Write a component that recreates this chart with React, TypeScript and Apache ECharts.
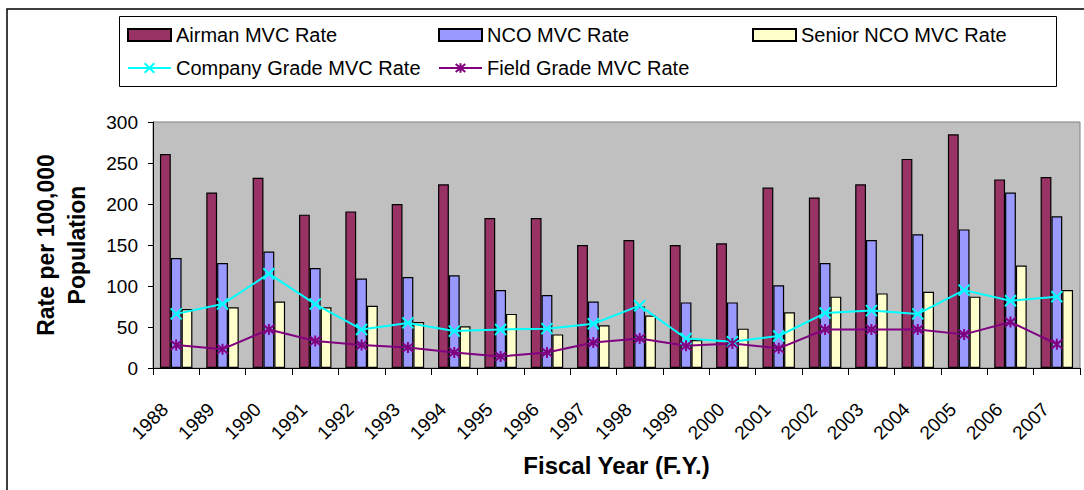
import React, { useEffect, useRef } from "react";
import * as echarts from "echarts";

const years = ["1988","1989","1990","1991","1992","1993","1994","1995","1996","1997","1998","1999","2000","2001","2002","2003","2004","2005","2006","2007"];
const airman = [261,214,232,187,191,200,224,183,183,150,156,150,152,220,208,224,255,285,230,233];
const nco = [134,128,142,122,109,111,113,95,89,81,75,80,80,101,128,156,163,169,214,185];
const seniorNco = [72,74,81,74,76,56,51,66,41,52,64,34,48,68,87,91,93,87,125,95];
const companyGrade = [66,78,115,78,47,55,45,47,48,54,76,36,32,39,67,70,66,95,82,87];
const fieldGrade = [28,23,47,33,28,25,19,14,19,31,36,27,30,24,47,47,47,41,56,29];

const FONT = "'Liberation Sans', Arial, sans-serif";

export default function App() {
  const ref = useRef<HTMLDivElement>(null);
  useEffect(() => {
    if (!ref.current) return;
    const chart = echarts.init(ref.current, null, { renderer: "svg" });
    const legendText = { fontSize: 20, color: "#000", fontFamily: FONT };
    const legendBase = { padding: 0, itemWidth: 43, itemHeight: 12, itemGap: 0, textStyle: legendText, selectedMode: false };
    const barBase = {
      type: "bar",
      barGap: "0%",
      barCategoryGap: "30%",
    };
    chart.setOption({
      animation: false,
      backgroundColor: "#ffffff",
      textStyle: { fontFamily: FONT },
      graphic: [
        { type: "rect", shape: { x: 7, y: 9, width: 1200, height: 600 }, style: { fill: "none", stroke: "#000", lineWidth: 1.5 }, silent: true },
        { type: "rect", shape: { x: 119.5, y: 16.5, width: 937, height: 70 }, style: { fill: "none", stroke: "#000", lineWidth: 1 }, silent: true },
      ],
      legend: [
        { ...legendBase, data: [{ name: "Airman MVC Rate", icon: "rect" }], left: 127, top: 25 },
        { ...legendBase, data: [{ name: "NCO MVC Rate", icon: "rect" }], left: 438, top: 25 },
        { ...legendBase, data: [{ name: "Senior NCO MVC Rate", icon: "rect" }], left: 752, top: 25 },
        { ...legendBase, data: ["Company Grade MVC Rate"], left: 127, top: 58 },
        { ...legendBase, data: ["Field Grade MVC Rate"], left: 438, top: 58 },
      ],
      grid: {
        left: 153,
        top: 122,
        right: 4,
        bottom: 122,
        show: true,
        backgroundColor: "#C0C0C0",
        borderColor: "#808080",
        borderWidth: 1,
      },
      xAxis: {
        type: "category",
        data: years,
        axisLine: { lineStyle: { color: "#000", width: 1 } },
        axisTick: { show: true, length: 7, lineStyle: { color: "#000" } },
        axisLabel: {
          interval: 0,
          rotate: 45,
          fontSize: 19,
          color: "#000",
          fontFamily: FONT,
          margin: 27,
          padding: [0, 16, 0, 0],
        },
        name: "Fiscal Year (F.Y.)",
        nameLocation: "middle",
        nameGap: 85,
        nameTextStyle: { fontSize: 24, fontWeight: "bold", color: "#000", fontFamily: FONT },
      },
      yAxis: {
        type: "value",
        min: 0,
        max: 300,
        interval: 50,
        axisLine: { show: true, lineStyle: { color: "#000", width: 1 } },
        axisTick: { show: true, length: 5, lineStyle: { color: "#000" } },
        splitLine: { show: false },
        axisLabel: { fontSize: 19, color: "#000", fontFamily: FONT, margin: 15 },
        name: "Rate per 100,000\nPopulation",
        nameLocation: "middle",
        nameRotate: 90,
        nameGap: 61,
        nameTextStyle: { fontSize: 23, fontWeight: "bold", color: "#000", fontFamily: FONT, lineHeight: 31, align: "center" },
      },
      series: [
        { ...barBase, name: "Airman MVC Rate", data: airman, itemStyle: { color: "#993366", borderColor: "#000", borderWidth: 1.2 } },
        { ...barBase, name: "NCO MVC Rate", data: nco, itemStyle: { color: "#9999FF", borderColor: "#000", borderWidth: 1.2 } },
        { ...barBase, name: "Senior NCO MVC Rate", data: seniorNco, itemStyle: { color: "#FFFFCC", borderColor: "#000", borderWidth: 1.2 } },
        {
          type: "line",
          name: "Company Grade MVC Rate",
          data: companyGrade,
          symbol: "path://M0,0L10,10M10,0L0,10",
          symbolSize: 11,
          lineStyle: { color: "#00FFFF", width: 2 },
          itemStyle: { color: "#00FFFF", borderColor: "#00FFFF", borderWidth: 2 },
          z: 5,
        },
        {
          type: "line",
          name: "Field Grade MVC Rate",
          data: fieldGrade,
          symbol: "path://M0,0L10,10M10,0L0,10M5,-1L5,11",
          symbolSize: 11,
          lineStyle: { color: "#800080", width: 2 },
          itemStyle: { color: "#800080", borderColor: "#800080", borderWidth: 2 },
          z: 5,
        },
      ],
    });
    return () => chart.dispose();
  }, []);
  return (
    <div
      ref={ref}
      style={{ position: "absolute", left: 0, top: 0, width: 1084, height: 490, background: "#fff" }}
    />
  );
}
